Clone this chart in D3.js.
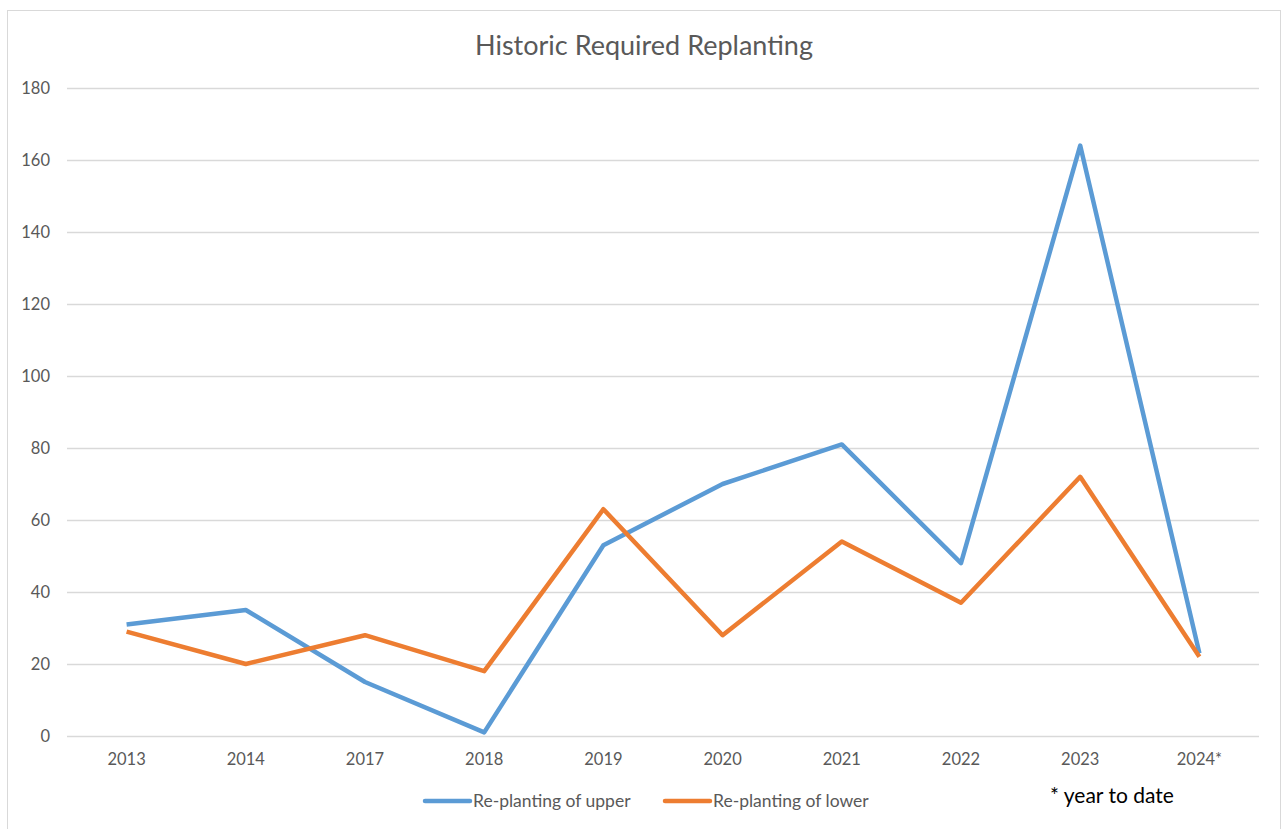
<!DOCTYPE html>
<html>
<head>
<meta charset="utf-8">
<script src="https://cdn.jsdelivr.net/npm/d3@7"></script>
<style>
  body { margin: 0; background: #fff; }
  svg { display: block; font-family: Lato, "Open Sans", sans-serif; }
</style>
</head>
<body>
<svg id="chart"></svg>
<script>
const years = ["2013", "2014", "2017", "2018", "2019", "2020", "2021", "2022", "2023", "2024*"];
const upper = [31, 35, 15, 1, 53, 70, 81, 48, 164, 23];
const lower = [29, 20, 28, 18, 63, 28, 54, 37, 72, 22];
const yTicks = [0, 20, 40, 60, 80, 100, 120, 140, 160, 180];

const series = [
    { name: "Re-planting of upper", values: upper, color: "#5B9BD5" },
    { name: "Re-planting of lower", values: lower, color: "#ED7D31" }
];

const width = 1283, height = 829;
const margin = { top: 88, right: 24, bottom: 93, left: 67 };

const svg = d3.select("#chart")
    .attr("width", width)
    .attr("height", height);

// chart frame
svg.append("rect")
    .attr("x", 7.5).attr("y", 10.5)
    .attr("width", 1273).attr("height", 830)
    .attr("fill", "#fff")
    .attr("stroke", "#d9d9d9");

svg.append("text")
    .attr("x", 644).attr("y", 55)
    .attr("text-anchor", "middle")
    .attr("font-size", 27)
    .attr("fill", "#595959")
    .text("Historic Required Replanting");

const x = d3.scaleBand()
    .domain(years)
    .range([margin.left, width - margin.right]);

const y = d3.scaleLinear()
    .domain([0, 180])
    .range([height - margin.bottom, margin.top]);

// gridlines + y labels
const yAxis = svg.append("g")
    .attr("transform", `translate(${margin.left},0)`)
    .call(d3.axisLeft(y).tickValues(yTicks).tickSize(-(width - margin.left - margin.right)).tickPadding(17));
yAxis.select(".domain").remove();
yAxis.selectAll(".tick line").attr("stroke", "#d9d9d9").attr("stroke-width", 1.3);
yAxis.selectAll(".tick text")
    .attr("fill", "#595959")
    .attr("font-size", 16.5)
    .attr("font-family", "Lato, sans-serif");

// x labels
const xAxis = svg.append("g")
    .attr("transform", `translate(0,${height - margin.bottom})`)
    .call(d3.axisBottom(x).tickSize(0).tickPadding(17));
xAxis.select(".domain").remove();
xAxis.selectAll(".tick text")
    .attr("fill", "#595959")
    .attr("font-size", 16.5)
    .attr("font-family", "Lato, sans-serif");

const line = d3.line()
    .x((d, i) => x(years[i]) + x.bandwidth() / 2)
    .y(d => y(d));

svg.append("g")
    .selectAll("path")
    .data(series)
    .join("path")
    .attr("fill", "none")
    .attr("stroke", d => d.color)
    .attr("stroke-width", 4.5)
    .attr("stroke-linejoin", "round")
    .attr("d", d => line(d.values));

// legend
const legend = svg.append("g").attr("transform", "translate(425,801)");
const items = legend.selectAll("g")
    .data(series)
    .join("g")
    .attr("transform", (d, i) => `translate(${i * 240},0)`);
items.append("line")
    .attr("x1", 0).attr("x2", 45)
    .attr("stroke", d => d.color)
    .attr("stroke-width", 4.5)
    .attr("stroke-linecap", "round");
items.append("text")
    .attr("x", 48).attr("y", 6)
    .attr("font-size", 17.5)
    .attr("fill", "#595959")
    .text(d => d.name);

svg.append("text")
    .attr("x", 1050).attr("y", 803)
    .attr("font-size", 21)
    .attr("fill", "#000")
    .text("* year to date");
</script>
</body>
</html>
